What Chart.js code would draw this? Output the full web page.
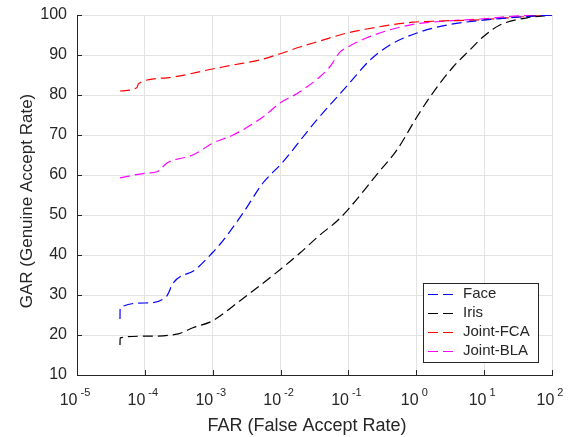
<!DOCTYPE html>
<html>
<head>
<meta charset="utf-8">
<script src="https://cdn.jsdelivr.net/npm/chart.js@4.4.1/dist/chart.umd.min.js"></script>
<style>
  html, body { margin: 0; padding: 0; background: #fff; }
</style>
</head>
<body>
<canvas id="rocChart" width="575" height="437"></canvas>
<script>
// series (FAR on a log axis, GAR in %)
const faceFar = [4.3e-5, 4.32e-5, 1.0e-4, 2.1e-4, 2.3e-4, 2.5e-4, 5.7e-4, 9.8e-4, 1.37e-3, 2.8e-3, 5.5e-3, 1.05e-2, 1.52e-2, 2.14e-2, 3.4e-2, 6.8e-2, 9.8e-2, 0.207, 0.41, 1.02, 2.83, 9.6, 33.7, 100];
const faceGar = [24, 26.8, 28, 29.7, 31, 32.5, 36.5, 40.5, 43.3, 50.5, 58, 63, 66.3, 69.5, 73.7, 79.5, 82.5, 88.7, 92.5, 95.5, 97.5, 98.7, 99.5, 100];

const irisFar = [4.3e-5, 4.32e-5, 1.0e-4, 3.1e-4, 5.1e-4, 9.8e-4, 2.5e-3, 1.01e-2, 1.93e-2, 3.8e-2, 6.8e-2, 9.8e-2, 0.273, 0.52, 1.02, 1.59, 3.48, 6.2, 9.6, 17.1, 42.7, 100];
const irisGar = [17.5, 19.3, 19.7, 20.3, 21.8, 23.5, 28.5, 36.5, 40.5, 45, 48.5, 51.3, 60.5, 66.3, 74.5, 79.5, 87, 91.3, 94.5, 97.5, 99.3, 100];

const fcaFar = [4.3e-5, 7.6e-5, 8.1e-5, 2.12e-4, 9.8e-4, 2.0e-3, 5.0e-3, 9.8e-3, 1.93e-2, 3.8e-2, 9.5e-2, 0.187, 0.41, 0.89, 2.23, 8.7, 33.7, 100];
const fcaGar = [81, 81.8, 82.9, 84.3, 86.5, 87.5, 88.8, 90.3, 92, 93.5, 95.5, 96.5, 97.5, 98.2, 98.5, 98.8, 99.5, 100];

const blaFar = [4.3e-5, 1.08e-4, 1.51e-4, 2.12e-4, 5.1e-4, 1.01e-3, 2.0e-3, 5.5e-3, 9.8e-3, 1.93e-2, 5.3e-2, 7.5e-2, 9.8e-2, 0.187, 0.41, 1.02, 2.83, 8.7, 33.7, 100];
const blaGar = [59.3, 60.5, 60.8, 63, 65, 68, 70, 74.5, 78, 80.8, 87, 90.7, 92, 94.3, 96.3, 97.8, 98.5, 99, 99.8, 100];

const seriesNames = ['Face', 'Iris', 'Joint-FCA', 'Joint-BLA'];
const seriesColors = ['#0000ff', '#000000', '#ff0000', '#ff00ff'];

// x axis decades (exponents) and y ticks
const xTickExps = [-5, -4, -3, -2, -1, 0, 1, 2];
const yTicks = [10, 20, 30, 40, 50, 60, 70, 80, 90, 100];

const xTitle = 'FAR (False Accept Rate)';
const yTitle = 'GAR (Genuine Accept Rate)';

const FONT = "'Liberation Sans', Arial, Helvetica, sans-serif";
const TEXT = '#262626';

function pairs(xs, ys) {
    return xs.map((x, i) => ({x: x, y: ys[i]}));
}

const allSeries = [[faceFar, faceGar], [irisFar, irisGar], [fcaFar, fcaGar], [blaFar, blaGar]];

const datasets = allSeries.map((s, i) => ({
    label: seriesNames[i],
    data: pairs(s[0], s[1]),
    borderColor: seriesColors[i],
    backgroundColor: seriesColors[i],
    borderWidth: 1.2,
    borderDash: [10, 5],
    pointRadius: 0,
    cubicInterpolationMode: 'monotone',
    fill: false
}));

// tick labels with exponents, axis titles, inward ticks and the boxed legend
const decorPlugin = {
    id: 'decor',
    afterDraw(chart) {
        const ctx = chart.ctx;
        const xs = chart.scales.x, ys = chart.scales.y, area = chart.chartArea;
        ctx.save();

        // inward tick marks
        ctx.strokeStyle = TEXT;
        ctx.lineWidth = 1;
        ctx.beginPath();
        xTickExps.forEach(e => {
            const px = Math.round(xs.getPixelForValue(Math.pow(10, e))) + 0.5;
            ctx.moveTo(px, area.bottom);
            ctx.lineTo(px, area.bottom - 5);
        });
        yTicks.forEach(v => {
            const py = Math.round(ys.getPixelForValue(v)) + 0.5;
            ctx.moveTo(area.left, py);
            ctx.lineTo(area.left + 5, py);
        });
        ctx.stroke();

        // x tick labels "10" with raised exponent
        ctx.fillStyle = TEXT;
        ctx.textBaseline = 'alphabetic';
        ctx.textAlign = 'left';
        xTickExps.forEach(e => {
            const px = xs.getPixelForValue(Math.pow(10, e));
            const expText = String(e);
            ctx.font = '16px ' + FONT;
            const w1 = ctx.measureText('10').width;
            ctx.font = '11px ' + FONT;
            const w2 = ctx.measureText(expText).width;
            const start = px - (w1 + 3 + w2) / 2 - 2;
            ctx.font = '16px ' + FONT;
            ctx.fillText('10', start, 405);
            ctx.font = '11px ' + FONT;
            ctx.fillText(expText, start + w1 + 3, 396);
        });

        // axis titles
        ctx.textAlign = 'center';
        ctx.textBaseline = 'middle';
        ctx.font = '18px ' + FONT;
        ctx.fillText(xTitle, 307, 426);
        ctx.save();
        ctx.translate(27, 201);
        ctx.rotate(-Math.PI / 2);
        ctx.font = '17px ' + FONT;
        ctx.fillText(yTitle, 0, 0);
        ctx.restore();

        // legend box inside the plot, bottom right
        const bx = 423.5, by = 283.5, bw = 115, bh = 79;
        ctx.fillStyle = '#ffffff';
        ctx.fillRect(bx, by, bw, bh);
        ctx.strokeStyle = TEXT;
        ctx.lineWidth = 1;
        ctx.setLineDash([]);
        ctx.strokeRect(bx, by, bw, bh);
        ctx.font = '15px ' + FONT;
        ctx.textAlign = 'left';
        chart.data.datasets.forEach((ds, i) => {
            const y = 294 + i * 19;
            ctx.strokeStyle = ds.borderColor;
            ctx.lineWidth = 1.2;
            ctx.setLineDash([10, 5]);
            ctx.beginPath();
            ctx.moveTo(428, y + 0.5);
            ctx.lineTo(455, y + 0.5);
            ctx.stroke();
            ctx.setLineDash([]);
            ctx.fillStyle = TEXT;
            ctx.fillText(ds.label, 463, y);
        });
        ctx.restore();
    }
};

new Chart(document.getElementById('rocChart'), {
    type: 'line',
    data: {datasets: datasets},
    options: {
        responsive: false,
        animation: false,
        layout: {padding: {top: 15, right: 23, left: 0, bottom: 0}},
        plugins: {
            legend: {display: false},
            tooltip: {enabled: false}
        },
        scales: {
            x: {
                type: 'logarithmic',
                min: 1e-5,
                max: 100,
                afterBuildTicks: scale => {
                    scale.ticks = xTickExps.map(e => ({value: Math.pow(10, e)}));
                },
                afterFit: scale => { scale.height = 62; },
                ticks: {display: false},
                grid: {color: '#e3e3e3', lineWidth: 1, drawTicks: false},
                border: {display: true, color: TEXT, width: 1}
            },
            y: {
                min: 10,
                max: 100,
                afterBuildTicks: scale => {
                    scale.ticks = yTicks.map(v => ({value: v}));
                },
                afterFit: scale => {
                    scale.width = 77;
                    scale.paddingTop = 0;
                    scale.paddingBottom = 0;
                },
                ticks: {
                    padding: 10,
                    color: TEXT,
                    font: {size: 16, family: FONT}
                },
                grid: {color: '#e3e3e3', lineWidth: 1, drawTicks: false},
                border: {display: true, color: TEXT, width: 1}
            }
        }
    },
    plugins: [decorPlugin]
});
</script>
</body>
</html>
